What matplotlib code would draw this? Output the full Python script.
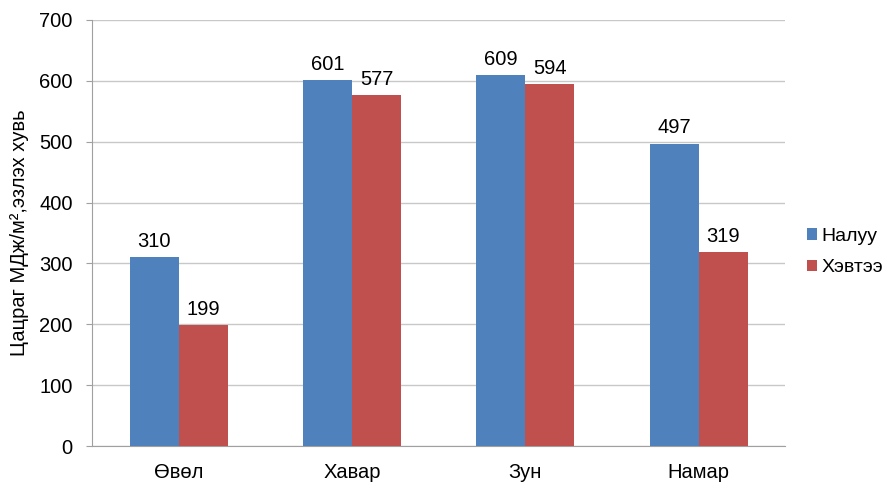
import numpy as np
import matplotlib
matplotlib.use("Agg")
import matplotlib.pyplot as plt

plt.rcParams["font.family"] = ["Liberation Sans", "DejaVu Sans"]

# --- Données ---
seasons = ["Өвөл", "Хавар", "Зун", "Намар"]
naluu = [310, 601, 609, 497]
hevtee = [199, 577, 594, 319]
series_names = ["Налуу", "Хэвтээ"]
colors = ["#4F81BD", "#C0504D"]

fs = 14.5

fig = plt.figure(figsize=(8.91, 4.91), dpi=100)
ax = fig.add_axes([0.1033, 0.0916, 0.778, 0.8677])

x = np.arange(len(seasons))
w = 0.283
b1 = ax.bar(x - w / 2, naluu, w, color=colors[0], label=series_names[0], zorder=3)
b2 = ax.bar(x + w / 2, hevtee, w, color=colors[1], label=series_names[1], zorder=3)

# valeurs au-dessus des barres
for bars, vals in ((b1, naluu), (b2, hevtee)):
    for r, v in zip(bars, vals):
        ax.text(r.get_x() + r.get_width() / 2, v + 10, str(v),
                ha="center", va="bottom", fontsize=fs, color="#000000")

ax.set_xlim(-0.5, len(seasons) - 0.5)
ax.set_ylim(0, 700)
ax.set_yticks(range(0, 701, 100))
ax.set_xticks(x)
ax.set_xticklabels(seasons, fontsize=fs)
ax.tick_params(axis="y", labelsize=fs, length=4, color="#A0A0A0", pad=10)
ax.tick_params(axis="x", length=0, pad=12)
ax.yaxis.grid(True, color="#C8C8C8", linewidth=1, zorder=0)

for side in ("top", "right"):
    ax.spines[side].set_visible(False)
for side in ("left", "bottom"):
    ax.spines[side].set_color("#A0A0A0")

ax.set_ylabel("Цацраг МДж/м²,эзлэх хувь", fontsize=fs, labelpad=7)

ax.legend(loc="center left", bbox_to_anchor=(1.006, 0.455), frameon=False,
          fontsize=14, handlelength=0.5, handleheight=0.5, handletextpad=0.25,
          labelspacing=0.75)

plt.savefig("out.png", dpi=100)
